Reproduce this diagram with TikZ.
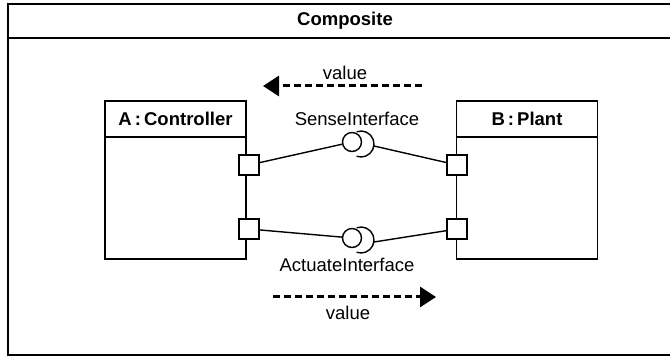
\documentclass[tikz,border=0pt]{standalone}
\usepackage{fontspec}
\setmainfont{Liberation Sans}
\usetikzlibrary{arrows.meta}
\begin{document}
\begin{tikzpicture}[x=1pt, y=-1pt, line width=1.4pt,
    txt/.style={font=\fontsize{18.5}{22}\selectfont, inner sep=0pt},
    part/.style={draw, minimum width=141pt, minimum height=158pt, inner sep=0pt},
    port/.style={draw, fill=white, minimum size=20pt, inner sep=0pt},
    ball/.style={draw, circle, minimum size=19pt, inner sep=0pt},
    flow/.style={line width=3pt, dash pattern=on 7pt off 4pt, -{Triangle[length=16pt, width=20pt]}}]
    \useasboundingbox (0,0) rectangle (670,358);

    % frame of the composite
    \draw[line width=2pt] (8,4) rectangle (682,355);
    \draw[line width=2pt] (8,38) -- (682,38);
    \node[txt, font=\fontsize{18.5}{22}\selectfont\bfseries] (comp) at (345,21) {Composite};

    % the two parts
    \node[part] (ctrl) at (175.5,180) {};
    \node[part] (plant) at (527,180) {};
    \draw (ctrl.west |- 0,137) -- (ctrl.east |- 0,137);
    \draw (plant.west |- 0,137) -- (plant.east |- 0,137);
    \node[txt, font=\fontsize{18.5}{22}\selectfont\bfseries] (ctrlname) at (175.5,119) {A\,:\,Controller};
    \node[txt, font=\fontsize{18.5}{22}\selectfont\bfseries] (plantname) at (527,119) {B\,:\,Plant};

    % ports
    \node[port] (cp1) at (249,165) {};
    \node[port] (cp2) at (249,229) {};
    \node[port] (pp1) at (457,165) {};
    \node[port] (pp2) at (457,229) {};

    % ball and socket
    \foreach \n/\y/\p/\q in {sense/142/cp1/pp1, act/238/cp2/pp2} {
        \node[ball] (\n) at (352,\y) {};
        \draw ([shift={(-110:13)}]361,\y+2) arc[start angle=-110, end angle=110, radius=13];
        \coordinate (\n R) at (374,\y+4);
        \draw (\p) -- (\n);
        \draw (\n R) -- (\q);
    }
    \node[txt] (sensename) at (357,119) {SenseInterface};
    \node[txt] (actname) at (347,265) {ActuateInterface};

    % value flows
    \coordinate (f1s) at (422,86);
    \coordinate (f1e) at (263,86);
    \coordinate (f2s) at (273,297);
    \coordinate (f2e) at (436,297);
    \draw[flow] (f1s) -- (f1e);
    \draw[flow] (f2s) -- (f2e);
    \node[txt] (v1) at (345,73) {value};
    \node[txt] (v2) at (348,313) {value};
\end{tikzpicture}
\end{document}
